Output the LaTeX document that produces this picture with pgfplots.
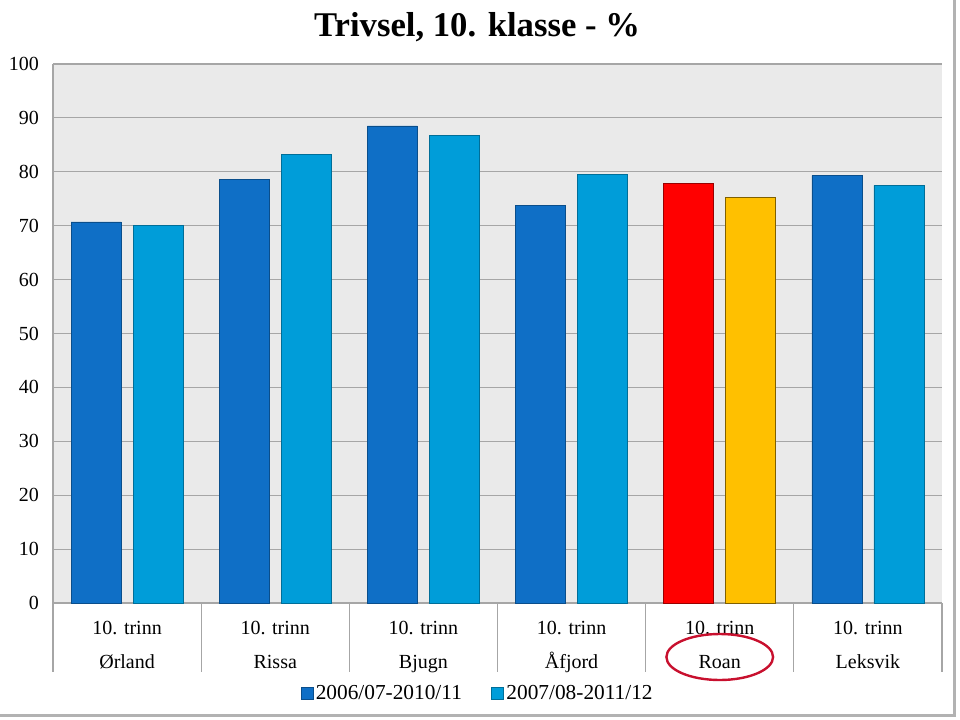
\documentclass[border=0pt]{standalone}
\usepackage{pgfplots}
\pgfplotsset{compat=1.18}
\usepackage{fontspec}
\setmainfont{Liberation Serif}
\definecolor{dblue}{HTML}{0F6FC6}
\definecolor{lblue}{HTML}{009DD9}
\definecolor{roanred}{HTML}{FF0000}
\definecolor{roanyel}{HTML}{FFC000}
\definecolor{bgc}{HTML}{EAEAEA}
\definecolor{gridc}{HTML}{A6A6A6}
\definecolor{ellc}{HTML}{C8102E}
\begin{document}
\begin{tikzpicture}
\path[use as bounding box] (-39.75pt,-87pt) rectangle (680.25pt,452.25pt);
\begin{axis}[
  scale only axis,
  width=666.75pt, height=404.25pt,
  anchor=south west, at={(0,0)},
  clip=false,
  xmin=-0.5, xmax=5.5, ymin=0, ymax=100,
  ytick={0,10,...,100},
  xtick={0,1,2,3,4,5},
  xticklabels={{10. trinn\\Ørland},{10. trinn\\Rissa},{10. trinn\\Bjugn},{10. trinn\\Åfjord},{10. trinn\\Roan},{10. trinn\\Leksvik}},
  xticklabel style={align=center, font=\fontsize{15}{25.5}\selectfont, yshift=-6pt},
  yticklabel style={font=\fontsize{15}{18}\selectfont, xshift=-7pt},
  /pgf/number format/assume math mode=true,
  axis x line*=bottom, axis y line*=left,
  axis line style={draw=gridc, line width=0.8pt},
  xtick style={draw=none}, ytick style={draw=none},
  ymajorgrids,
  grid style={draw=gridc, line width=0.8pt},
  axis background/.style={fill=bgc},
  title={Trivsel, 10. klasse - \%},
  title style={font=\bfseries\fontsize{26}{30}\selectfont, at={(0.477,1)}, anchor=center, yshift=21.5pt},
  ybar, bar width=37.5pt,
  legend style={at={(0.478,0)}, anchor=center, yshift=-67.5pt, draw=none, fill=none,
    legend columns=2, font=\fontsize{16}{18}\selectfont,
    /tikz/every even column/.append style={column sep=20pt}},
  legend image code/.code={\fill[#1] (0pt,-4.5pt) rectangle (9pt,4.5pt);},
]
\addplot[fill=dblue, draw=dblue!70!black, bar shift=-23.25pt] coordinates {(0,70.7) (1,78.6) (2,88.5) (3,73.8) (5,79.3)};
\addplot[fill=lblue, draw=lblue!70!black, bar shift=23.25pt] coordinates {(0,70.0) (1,83.3) (2,86.8) (3,79.5) (5,77.5)};
\addplot[fill=roanred, draw=roanred!60!black, bar shift=-23.25pt, forget plot] coordinates {(4,77.8)};
\addplot[fill=roanyel, draw=roanyel!50!black, bar shift=23.25pt, forget plot] coordinates {(4,75.3)};
\legend{2006/07-2010/11, 2007/08-2011/12}
\pgfplotsinvokeforeach{-0.5,0.5,1.5,2.5,3.5,4.5,5.5}{\draw[gridc, line width=0.8pt] (axis cs:#1,0) -- ([yshift=-51.75pt]axis cs:#1,0);}
\coordinate (roan) at (axis cs:4,0);
\end{axis}
\draw[ellc, line width=1.8pt] ([yshift=-40.5pt]roan) ellipse [x radius=40pt, y radius=17.25pt];
\draw[gray!60, line width=2.25pt] (675.75pt,452.25pt) -- (675.75pt,-84pt) -- (-39.75pt,-84pt);
\end{tikzpicture}
\end{document}
